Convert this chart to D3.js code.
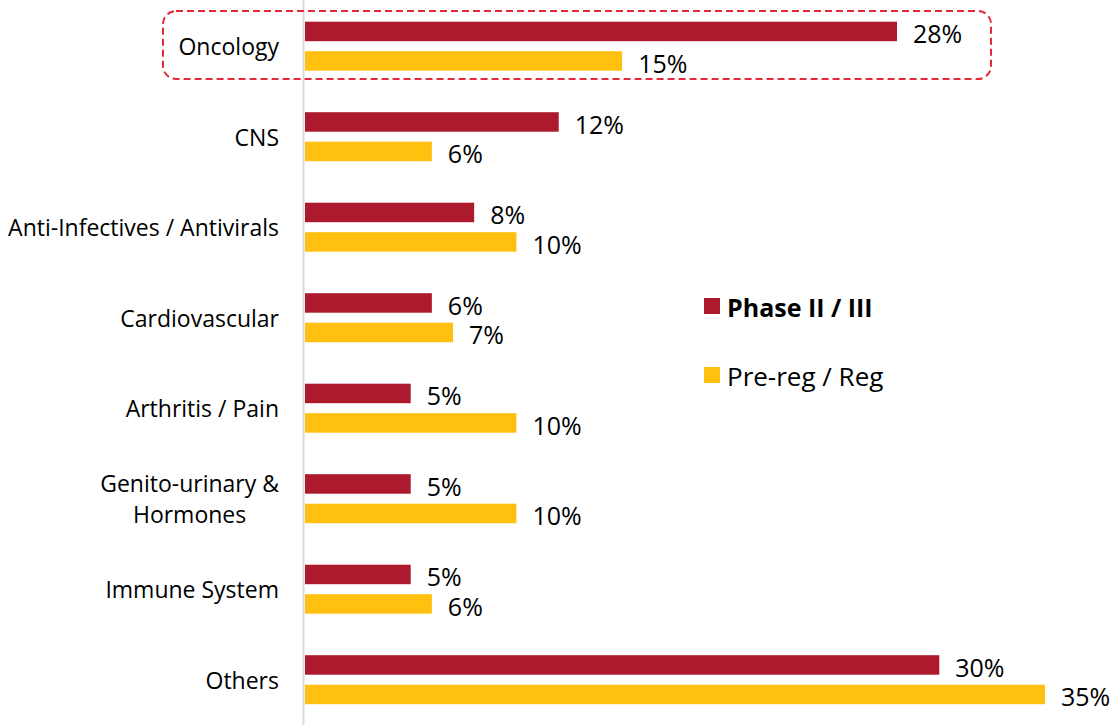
<!DOCTYPE html>
<html>
<head>
<meta charset="utf-8">
<script src="https://cdn.jsdelivr.net/npm/d3@7"></script>
<style>
  html, body { margin: 0; padding: 0; background: #fff; }
  svg { display: block; font-family: "Open Sans", "Noto Sans", sans-serif; }
</style>
</head>
<body>
<svg id="chart" width="1115" height="725"></svg>
<script>
const categories = [
  ["Oncology"],
  ["CNS"],
  ["Anti-Infectives / Antivirals"],
  ["Cardiovascular"],
  ["Arthritis / Pain"],
  ["Genito-urinary &", "Hormones"],
  ["Immune System"],
  ["Others"]
];
const seriesNames = ["Phase II / III", "Pre-reg / Reg"];
const phase23 = [28, 12, 8, 6, 5, 5, 5, 30];
const preReg = [15, 6, 10, 7, 10, 10, 6, 35];
const seriesColors = ["#ae1a2d", "#ffc010"];

const svg = d3.select("#chart");
const catKeys = categories.map(c => c.join(" "));

const y = d3.scaleBand().domain(catKeys).range([1, 725]).padding(0);
const yInner = d3.scaleBand().domain([0, 1]).range([20.7, 69.7]).paddingInner(0.339).paddingOuter(0);
const x = d3.scaleLinear().domain([0, 35]).range([305, 1045]);

// axis line
svg.append("line")
  .attr("x1", 303.5).attr("x2", 303.5)
  .attr("y1", 0).attr("y2", 725)
  .attr("stroke", "#d9d9d9").attr("stroke-width", 2);

const data = [];
catKeys.forEach((k, i) => {
  data.push({ cat: k, s: 0, v: phase23[i] });
  data.push({ cat: k, s: 1, v: preReg[i] });
});

svg.append("g").selectAll("rect").data(data).join("rect")
  .attr("x", x(0))
  .attr("y", d => y(d.cat) + yInner(d.s))
  .attr("width", d => x(d.v) - x(0))
  .attr("height", yInner.bandwidth())
  .attr("fill", d => seriesColors[d.s]);

svg.append("g").selectAll("text").data(data).join("text")
  .attr("x", d => x(d.v) + 16)
  .attr("y", d => y(d.cat) + yInner(d.s) + yInner.bandwidth() / 2 + 2)
  .attr("dominant-baseline", "central")
  .attr("font-size", 25)
  .attr("fill", "#000")
  .text(d => d.v + "%");

// category labels
const lab = svg.append("g").selectAll("text").data(categories).join("text")
  .attr("text-anchor", "middle")
  .attr("font-size", 23)
  .attr("fill", "#000");
lab.each(function(lines, i) {
  const t = d3.select(this);
  const cy = y(catKeys[i]) + y.bandwidth() / 2;
  const lh = 31;
  lines.forEach((ln, j) => {
    t.append("tspan")
      .attr("x", 0)
      .attr("y", cy + (j - (lines.length - 1) / 2) * lh)
      .attr("dominant-baseline", "central")
      .text(ln);
  });
  let w = 0;
  t.selectAll("tspan").each(function() { w = Math.max(w, this.getComputedTextLength()); });
  t.selectAll("tspan").attr("x", 279 - w / 2);
});

// highlight box around Oncology
svg.append("rect")
  .attr("x", 163).attr("y", 11)
  .attr("width", 828).attr("height", 68)
  .attr("rx", 13).attr("ry", 13)
  .attr("fill", "none")
  .attr("stroke", "#e5283a")
  .attr("stroke-width", 2)
  .attr("stroke-dasharray", "7,4");

// legend
const legY = [306, 375];
const leg = svg.append("g").selectAll("g").data(seriesNames).join("g");
leg.append("rect")
  .attr("x", 704).attr("y", (d, i) => legY[i] - 8)
  .attr("width", 16).attr("height", 16)
  .attr("fill", (d, i) => seriesColors[i]);
leg.append("text")
  .attr("x", 727).attr("y", (d, i) => legY[i] + 1)
  .attr("dominant-baseline", "central")
  .attr("font-size", (d, i) => i === 0 ? 25 : 26)
  .attr("font-weight", (d, i) => i === 0 ? "bold" : "normal")
  .attr("fill", "#000")
  .text(d => d);
</script>
</body>
</html>
